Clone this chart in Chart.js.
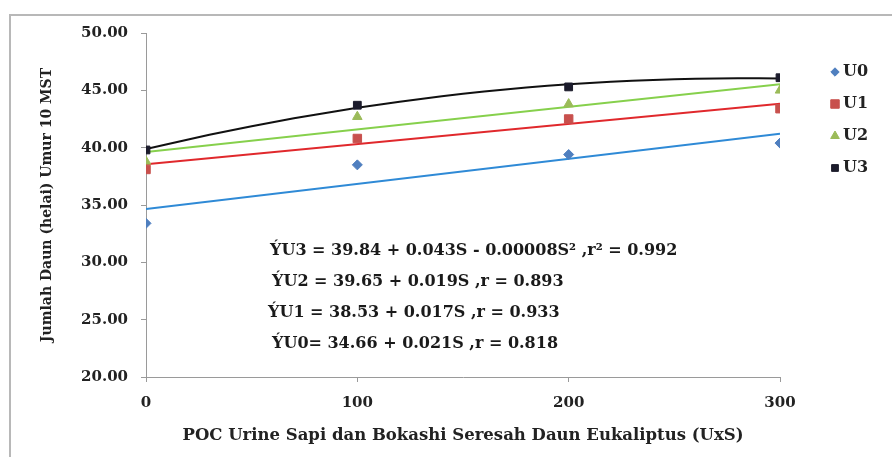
<!DOCTYPE html>
<html>
<head>
<meta charset="utf-8">
<script src="https://cdn.jsdelivr.net/npm/chart.js@4.4.0/dist/chart.umd.min.js"></script>
<style>
  html, body { margin: 0; padding: 0; background: #fff; }
  #wrap { width: 892px; height: 457px; position: relative; }
</style>
</head>
<body>
<div id="wrap"><canvas id="chart"></canvas></div>
<script>
/* ============================================================
   DATA
   ============================================================ */
const doses   = [0, 100, 200, 300];          // UxS
const names   = ['U0', 'U1', 'U2', 'U3'];
const u0Vals  = [33.4, 38.5, 39.4, 40.4];
const u1Vals  = [38.1, 40.8, 42.5, 43.4];
const u2Vals  = [38.8, 42.7, 43.8, 45.0];
const u3Vals  = [39.8, 43.7, 45.3, 46.1];
const fitDeg  = [1, 1, 1, 2];                // Excel trendline order per series
const yTicks  = [20, 25, 30, 35, 40, 45, 50];
const equations = [
  'ÝU3 = 39.84 + 0.043S - 0.00008S² ,r² = 0.992',
  'ÝU2 = 39.65 + 0.019S ,r = 0.893',
  'ÝU1 = 38.53 + 0.017S ,r = 0.933',
  'ÝU0= 34.66 + 0.021S ,r = 0.818'
];

const allVals = [u0Vals, u1Vals, u2Vals, u3Vals];

/* ============================================================
   STYLES
   ============================================================ */
const markerColor = ['#4f7fbf', '#c8504d', '#9bbb59', '#1c1c2c'];
const lineColor   = ['#2f8ad6', '#e0282c', '#86d04c', '#111111'];
const markerStyle = ['rectRot', 'rect', 'triangle', 'rect'];
const markerSize  = [5, 6, 5.5, 5.5];
const legendSize  = [4.2, 6, 5, 4.8];
const FONT = 'DejaVu Serif';

// least squares polynomial fit (like an Excel trendline)
function polyfit(xs, ys, deg) {
  const n = deg + 1;
  const A = [];
  for (let r = 0; r < n; r++) {
    A.push([]);
    for (let c = 0; c < n; c++) A[r].push(xs.reduce((s, x) => s + Math.pow(x, r + c), 0));
    A[r].push(xs.reduce((s, x, i) => s + Math.pow(x, r) * ys[i], 0));
  }
  for (let i = 0; i < n; i++) {
    for (let k = i + 1; k < n; k++) {
      const f = A[k][i] / A[i][i];
      for (let j = i; j <= n; j++) A[k][j] -= f * A[i][j];
    }
  }
  const coef = new Array(n).fill(0);
  for (let i = n - 1; i >= 0; i--) {
    let s = A[i][n];
    for (let j = i + 1; j < n; j++) s -= A[i][j] * coef[j];
    coef[i] = s / A[i][i];
  }
  return coef;
}

const datasets = [];
allVals.forEach((vals, i) => {
  datasets.push({
    label: names[i],
    data: doses.map((x, k) => ({ x, y: vals[k] })),
    showLine: false,
    pointStyle: markerStyle[i],
    pointRadius: markerSize[i],
    pointHoverRadius: markerSize[i],
    backgroundColor: markerColor[i],
    borderColor: markerColor[i],
    borderWidth: 1,
    order: 0
  });
  const coef = polyfit(doses, vals, fitDeg[i]);
  const xsFit = [];
  const step = fitDeg[i] === 1 ? 300 : 10;
  for (let x = doses[0]; x <= doses[doses.length - 1]; x += step) xsFit.push(x);
  datasets.push({
    label: names[i] + ' trend',
    data: xsFit.map(x => ({ x, y: coef.reduce((s, c, p) => s + c * Math.pow(x, p), 0) })),
    showLine: true,
    pointRadius: 0,
    borderColor: lineColor[i],
    borderWidth: 2,
    tension: 0,
    fill: false,
    order: 1
  });
});

/* ---- custom legend, frame and equations ---- */
const extras = {
  id: 'extras',
  afterDraw(chart) {
    const ctx = chart.ctx;
    ctx.save();
    // outer frame
    ctx.strokeStyle = '#b8b8b8';
    ctx.lineWidth = 2;
    ctx.strokeRect(10, 15, 900, 460);

    // legend
    ctx.font = 'bold 16px "' + FONT + '"';
    ctx.textBaseline = 'middle';
    ctx.textAlign = 'left';
    names.forEach((n, i) => {
      const y = 72 + i * 32;
      ctx.fillStyle = markerColor[i];
      ctx.strokeStyle = markerColor[i];
      ctx.lineWidth = 1;
      Chart.helpers.drawPoint(ctx, {
        pointStyle: markerStyle[i], radius: legendSize[i], borderWidth: 1, rotation: 0
      }, 835, y);
      ctx.fillStyle = '#222';
      ctx.fillText(n, 843, y);
    });

    // regression equations
    ctx.font = 'bold 16px "' + FONT + '"';
    ctx.fillStyle = '#1a1a1a';
    const eqX = [270, 272, 268, 272];
    equations.forEach((t, i) => ctx.fillText(t, eqX[i], 251 + i * 31));
    ctx.restore();
  }
};

new Chart(document.getElementById('chart'), {
  type: 'scatter',
  data: { datasets },
  plugins: [extras],
  options: {
    responsive: true, maintainAspectRatio: false, animation: false,
    layout: { padding: { top: 33, right: 112, bottom: 0, left: 0 } },
    plugins: { legend: { display: false }, tooltip: { enabled: false } },
    scales: {
      x: {
        type: 'linear', min: 0, max: 300,
        afterFit: s => { s.height = 80; },
        border: { color: '#9a9a9a', width: 1 },
        grid: { drawOnChartArea: false, color: '#9a9a9a', tickLength: 5 },
        ticks: { stepSize: 100, padding: 12, color: '#222', font: { family: FONT, size: 15, weight: 'bold' } },
        title: {
          display: true, text: 'POC Urine Sapi dan Bokashi Seresah Daun Eukaliptus (UxS)',
          color: '#222', padding: { top: 0, bottom: 11 },
          font: { family: FONT, size: 16.5, weight: 'bold' }
        }
      },
      y: {
        min: 20, max: 50,
        afterFit: s => { s.width = 146; },
        afterBuildTicks: s => { s.ticks = yTicks.map(v => ({ value: v })); },
        border: { color: '#9a9a9a', width: 1 },
        grid: { drawOnChartArea: false, color: '#9a9a9a', tickLength: 5 },
        ticks: {
          padding: 13, color: '#222',
          font: { family: FONT, size: 15, weight: 'bold' },
          callback: v => Number(v).toFixed(2)
        },
        title: {
          display: true, text: 'Jumlah Daun (helai) Umur 10 MST',
          color: '#222', padding: { top: 39, bottom: 0 },
          font: { family: FONT, size: 14, weight: 'bold' }
        }
      }
    }
  }
});
</script>
</body>
</html>
